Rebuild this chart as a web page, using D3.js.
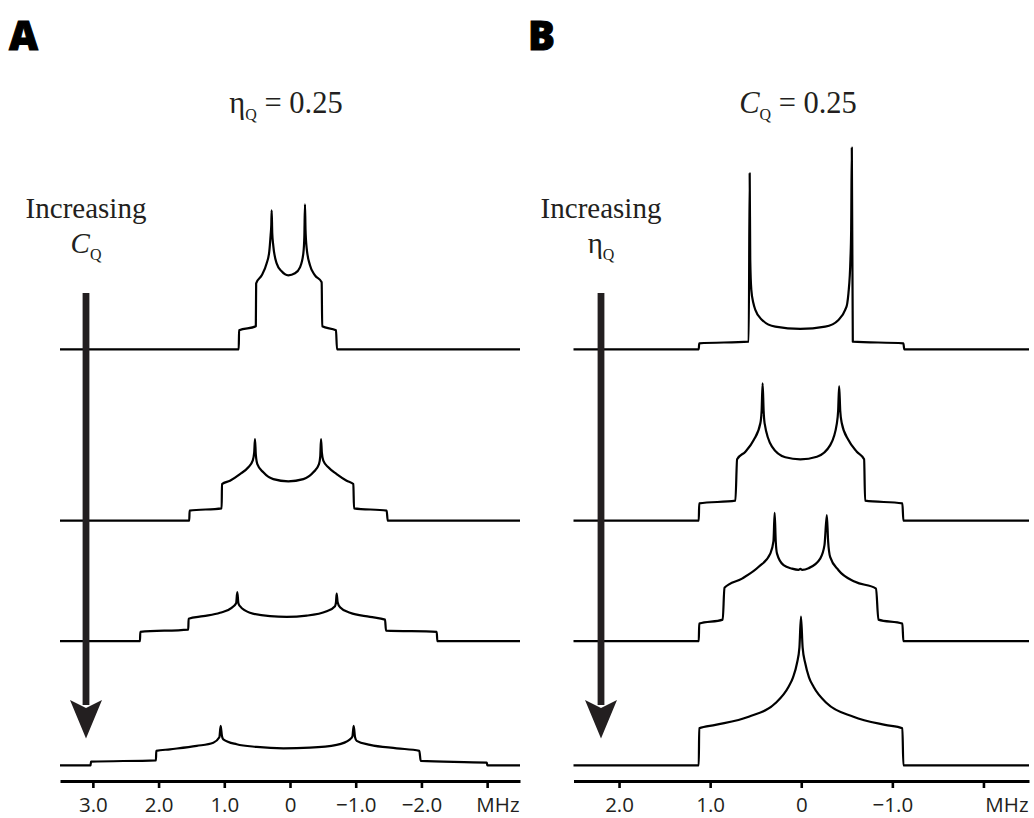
<!DOCTYPE html>
<html><head><meta charset="utf-8">
<script src="https://cdn.jsdelivr.net/npm/d3@7"></script>
<style>
html,body{margin:0;padding:0;background:#fff;}
svg{display:block;}
</style></head>
<body>
<svg id="chart" width="1034" height="818"></svg>
<script>
// ---------- DATA (frequency in MHz, intensity in arbitrary units) ----------
// Panel A: eta_Q = 0.25, increasing C_Q (top to bottom)
const specA1 = [[3.5,0],[0.78,0],[0.775,9.5],[0.52,11.5],[0.515,33],[0.43,37],[0.355,43],[0.315,49],[0.295,57],[0.285,62],[0.279,69.5],[0.27,58],[0.255,52],[0.203,43],[0.127,39],[0.026,37],[-0.076,38],[-0.152,41],[-0.203,48],[-0.218,56],[-0.228,72.5],[-0.236,60],[-0.254,50.5],[-0.304,42],[-0.38,37],[-0.482,33.5],[-0.49,11.5],[-0.70,9.5],[-0.715,0],[-3.5,0]];
const specA2 = [[3.5,0],[1.533,0],[1.528,5],[1.04,6.2],[1.035,18.3],[0.913,20],[0.761,23.3],[0.634,26.7],[0.568,30],[0.545,34],[0.533,40.8],[0.52,33],[0.497,28.3],[0.406,24.2],[0.254,20.8],[0.025,19.7],[-0.203,20.8],[-0.355,24.2],[-0.441,28.3],[-0.46,32],[-0.472,40.8],[-0.485,34],[-0.507,30],[-0.583,26.7],[-0.71,23.3],[-0.862,20],[-0.964,18.3],[-0.974,6.2],[-1.471,5],[-1.487,0],[-3.5,0]];
const specA3 = [[3.5,0],[2.283,0],[2.278,4.7],[1.548,5.8],[1.543,11.2],[1.32,12.5],[1.065,14.2],[0.888,16.7],[0.82,19],[0.802,24.5],[0.785,19],[0.761,17.5],[0.609,14.2],[0.304,12.5],[0.05,12.2],[-0.254,12.8],[-0.558,15],[-0.685,17.5],[-0.70,19.5],[-0.71,23.8],[-0.725,19.5],[-0.761,17],[-0.913,14.2],[-1.218,12.2],[-1.446,10.8],[-1.461,5.3],[-2.233,4.7],[-2.242,0],[-3.5,0]];
const specA4 = [[3.5,0],[3.034,0],[3.029,1.8],[2.04,2.5],[2.035,7.2],[1.826,8],[1.42,9.7],[1.167,11.3],[1.075,14],[1.055,19.7],[1.035,14.5],[1.015,13],[0.811,10.5],[0.507,9.2],[0.1,8.5],[-0.304,8.8],[-0.71,10.2],[-0.913,13],[-0.95,14.5],[-0.969,19.7],[-0.99,14],[-1.015,12.2],[-1.218,10.2],[-1.624,8.5],[-1.968,7.2],[-1.989,2.2],[-2.994,1.3],[-3.003,0],[-3.5,0]];

// Panel B: C_Q = 0.25, increasing eta_Q (top to bottom)
const specB1 = [[2.5,0],[1.125,0],[1.12,3],[0.577,3.8],[0.566,88],[0.56,45],[0.548,29.7],[0.525,23],[0.504,19.7],[0.43,14.7],[0.285,11.3],[0.01,10.2],[-0.263,11.3],[-0.409,14.7],[-0.482,19.7],[-0.505,23],[-0.518,28],[-0.54,45],[-0.548,60],[-0.555,100.8],[-0.566,3.8],[-1.121,3],[-1.131,0],[-2.5,0]];
const specB2 = [[2.5,0],[1.125,0],[1.12,8.7],[0.723,10],[0.704,30.7],[0.613,34.5],[0.522,40.3],[0.449,48.7],[0.435,55],[0.424,68.7],[0.413,55],[0.402,48.7],[0.321,37],[0.175,31.7],[0.01,30.7],[-0.172,32],[-0.318,37.8],[-0.391,48.7],[-0.405,55],[-0.416,67.3],[-0.428,55],[-0.445,48.7],[-0.518,40.3],[-0.61,34.5],[-0.69,30.7],[-0.701,10],[-1.11,8.7],[-1.121,0],[-2.5,0]];
const specB3 = [[2.5,0],[1.125,0],[1.12,8.8],[0.862,10.8],[0.843,26.7],[0.65,31.3],[0.467,37.2],[0.34,43.8],[0.305,50],[0.292,64.2],[0.28,50],[0.266,43.8],[0.194,38],[0.102,36.3],[0.03,35.7],[0.01,36.2],[-0.01,35.7],[-0.08,36.5],[-0.208,41.3],[-0.255,48],[-0.281,63],[-0.295,50],[-0.318,42],[-0.409,35.5],[-0.591,29.7],[-0.821,26.3],[-0.847,10.8],[-1.11,8.8],[-1.121,0],[-2.5,0]];
const specB4 = [[2.5,0],[1.125,0],[1.12,18.5],[0.942,20.2],[0.577,24.3],[0.285,31],[0.139,39.3],[0.09,44],[0.047,51],[0.02,59],[0.003,74.3],[-0.015,59],[-0.044,51],[-0.085,44],[-0.135,39.3],[-0.281,31],[-0.573,24.3],[-0.92,20.2],[-1.11,18.5],[-1.121,0],[-2.5,0]];

// Axis ticks
const ticksA = [3, 2, 1, 0, -1, -2, -3];
const tickLabelsA = ["3.0", "2.0", "1.0", "0", "\u22121.0", "\u22122.0", "MHz"];
const ticksB = [2, 1, 0, -1, -2];
const tickLabelsB = ["2.0", "1.0", "0", "\u22121.0", "MHz"];

// ---------- LAYOUT ----------
const svg = d3.select("#chart");
const ink = "#000";
const arrowInk = "#231f20";
const baselines = [349.3, 520.7, 641.2, 765.3];
const axisY = 781;
const hScale = d3.scaleLinear().domain([0, 100]).range([0, 200]);
const serif = "'Liberation Serif','Times New Roman',serif";

function panel(cfg) {
  const x = d3.scaleLinear().domain(cfg.domain).range(cfg.range);
  const g = svg.append("g");
  cfg.spectra.forEach((s, i) => {
    const line = d3.line()
      .x(d => x(d[0]))
      .y(d => baselines[i] - hScale(d[1]))
      .curve(d3.curveMonotoneX);
    g.append("path").datum(s).attr("d", line)
      .attr("fill", "none").attr("stroke", ink)
      .attr("stroke-width", 2.2).attr("stroke-linejoin", "round");
  });
  // axis
  const axis = d3.axisBottom(x).tickValues(cfg.ticks)
    .tickFormat((d, i) => cfg.labels[i])
    .tickSize(7).tickSizeOuter(0).tickPadding(9);
  const ag = g.append("g").attr("transform", `translate(0,${axisY})`).call(axis);
  ag.select(".domain").attr("stroke", ink).attr("stroke-width", 3);
  ag.selectAll(".tick line").attr("stroke", ink).attr("stroke-width", 2.6);
  ag.selectAll(".tick text").attr("fill", "#231f20")
    .style("font-family", "'Open Sans','Noto Sans',sans-serif").style("font-size", "20.5px");
  // unit label is right-aligned to the end of the axis
  const lastTick = cfg.ticks[cfg.ticks.length - 1];
  ag.selectAll(".tick").filter(d => d === lastTick).select("text")
    .attr("text-anchor", "end")
    .attr("x", cfg.range[1] - x(lastTick) - 1);

  // arrow
  const ax = cfg.arrowX;
  g.append("rect").attr("x", ax - 3.4).attr("y", 293).attr("width", 6.8).attr("height", 412).attr("fill", arrowInk);
  g.append("path").attr("d", `M${ax},738.5 L${ax-16},700 L${ax},708 L${ax+16},700 Z`).attr("fill", arrowInk);

  // panel letter
  g.append("text").attr("x", cfg.letterX).attr("y", 50).text(cfg.letter)
    .style("font-family", "'Open Sans','Lato',sans-serif").style("font-weight", 800)
    .style("font-size", "40px").attr("fill", "#000")
    .attr("stroke", "#000").attr("stroke-width", 1);

  // title
  const t = g.append("text").attr("x", cfg.titleX).attr("y", 113).attr("text-anchor", "middle")
    .style("font-family", serif).style("font-size", "30.5px").attr("fill", "#231f20");
  cfg.title(t);

  // side label
  g.append("text").attr("x", ax).attr("y", 218).attr("text-anchor", "middle")
    .style("font-family", serif).style("font-size", "29px").attr("fill", "#231f20")
    .text("Increasing");
  const s2 = g.append("text").attr("x", ax).attr("y", 253).attr("text-anchor", "middle")
    .style("font-family", serif).style("font-size", "29px").attr("fill", "#231f20");
  cfg.side(s2);
}

function etaQ(t, rest) {
  t.append("tspan").text("\u03b7");
  t.append("tspan").attr("dy", 7).style("font-size", "16px").text("Q");
  if (rest) t.append("tspan").attr("dy", -7).text(rest);
}
function cQ(t, rest) {
  t.append("tspan").style("font-style", "italic").text("C");
  t.append("tspan").attr("dy", 7).style("font-size", "16px").text("Q");
  if (rest) t.append("tspan").attr("dy", -7).text(rest);
}

panel({
  domain: [3.5, -3.5], range: [60, 520],
  spectra: [specA1, specA2, specA3, specA4],
  ticks: ticksA, labels: tickLabelsA,
  arrowX: 86, letter: "A", letterX: 9, titleX: 286,
  title: t => etaQ(t, " = 0.25"),
  side: t => cQ(t)
});
panel({
  domain: [2.5, -2.5], range: [573.5, 1029],
  spectra: [specB1, specB2, specB3, specB4],
  ticks: ticksB, labels: tickLabelsB,
  arrowX: 601, letter: "B", letterX: 528, titleX: 798,
  title: t => cQ(t, " = 0.25"),
  side: t => etaQ(t)
});
</script>
</body></html>
